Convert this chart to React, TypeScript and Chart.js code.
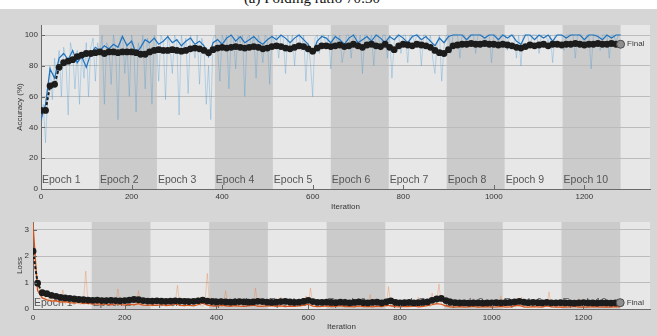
import { useEffect, useRef } from "react";
import { Chart, registerables } from "chart.js";

Chart.register(...registerables);

// ---------------- data ----------------
const TITLE = "(a) Folding ratio 70:30";
const EPOCH_LABELS = ["Epoch 1", "Epoch 2", "Epoch 3", "Epoch 4", "Epoch 5", "Epoch 6", "Epoch 7", "Epoch 8", "Epoch 9", "Epoch 10"];
const ITER_PER_EPOCH = 128;
const X_MAX = 1345;
const X_TICKS = [0, 200, 400, 600, 800, 1000, 1200];
const ACC_TICKS = [0, 20, 40, 60, 80, 100];
const LOSS_TICKS = [0, 1, 2, 3];
const RAW_STEP = 5; // iterations between raw samples
const STEP = 10; // iterations between smoothed / validation samples
const FINAL_ITER = 1280;
const FINAL_ACC = 94;
const FINAL_LOSS = 0.24;

// raw training accuracy, every 5 iterations
const RAW_ACC = [
  40, 55, 30, 62, 80, 58, 85, 70, 90, 60, 92, 85, 48, 95, 88, 65, 90, 55, 88, 72, 95, 60, 92, 98, 70, 95,
  88, 100, 55, 95, 92, 68, 100, 90, 45, 98, 100, 75, 95, 60, 100, 92, 50, 95, 88, 100, 65, 98, 92, 55, 100, 95,
  70, 100, 95, 58, 100, 92, 75, 100, 95, 48, 100, 90, 98, 62, 100, 95, 85, 100, 68, 98, 92, 55, 80, 45, 98, 100,
  92, 70, 100, 95, 100, 65, 100, 98, 78, 100, 95, 100, 60, 98, 100, 92, 100, 72, 100, 95, 82, 100, 98, 68, 100, 95,
  100, 85, 100, 98, 75, 100, 92, 100, 80, 100, 100, 90, 100, 70, 95, 82, 60, 98, 100, 88, 100, 100, 92, 100, 78, 100,
  100, 95, 100, 82, 90, 100, 100, 85, 100, 100, 92, 100, 75, 100, 100, 95, 100, 80, 100, 100, 90, 100, 100, 85, 100, 72,
  95, 100, 100, 88, 100, 100, 82, 100, 100, 95, 100, 100, 80, 100, 100, 92, 100, 85, 75, 95, 100, 70, 92, 100, 100, 88,
  100, 100, 100, 85, 100, 100, 92, 100, 100, 100, 88, 100, 100, 100, 95, 100, 100, 82, 100, 100, 95, 100, 100, 100, 90, 100,
  100, 100, 85, 100, 80, 100, 100, 100, 92, 100, 100, 100, 88, 100, 100, 100, 95, 100, 82, 100, 100, 100, 100, 90, 100, 100,
  100, 100, 85, 100, 100, 100, 92, 100, 100, 78, 100, 100, 100, 90, 100, 100, 100, 85, 100, 100, 95, 100, 100,
];

// smoothed training accuracy, every 10 iterations
const SMOOTH_ACC = [
  45, 55, 78, 72, 85, 88, 84, 90, 82, 86,
  79, 88, 92, 90, 93, 91, 94, 92, 99, 93,
  96, 88, 92, 97, 95, 98, 94, 96, 99, 95,
  97, 93, 96, 98, 94, 96, 93, 86, 95, 97,
  94, 98, 100, 96, 99, 95, 97, 99, 96, 94,
  97, 99, 97, 100, 98, 95, 98, 100, 97, 94,
  88, 96, 99, 98, 95, 99, 97, 94, 98, 100,
  95, 97, 99, 96, 100, 98, 95, 99, 97, 100,
  98, 95, 99, 100, 97, 99, 96, 93, 98, 95,
  99, 100, 100, 100, 97, 100, 100, 100, 98, 100,
  100, 97, 100, 98, 100, 96, 94, 100, 100, 97,
  100, 98, 100, 96, 100, 100, 98, 100, 100, 100,
  97, 100, 100, 99, 97, 100, 98, 100, 100,
];

// validation accuracy, every 10 iterations
const VAL_ACC = [
  51, 51, 67, 68, 79, 82, 83, 84, 86, 87,
  88, 88, 88.5, 89, 88, 89, 89, 88.5, 89, 89,
  89, 88.5, 87.5, 87.5, 89, 90, 90.5, 90, 90, 90.5,
  90, 89.5, 90, 91, 91.5, 91, 90, 88.5, 90.5, 91.5,
  92, 91.5, 92, 92.5, 92, 91.5, 92, 92.5, 92, 91,
  91.5, 92.5, 93, 92.5, 91.5, 91, 92, 93, 92.5, 91,
  89.5, 91.5, 93, 93, 92.5, 93, 93.5, 92.5, 93, 94,
  93, 92, 93.5, 94, 93, 92.5, 94, 92, 90.5, 93,
  94, 93.5, 93, 94, 93.5, 93, 92, 90, 88.5, 88,
  90.5, 93, 93.5, 94, 94, 94.5, 94, 94, 94.5, 94,
  94, 93.5, 94, 93.5, 93, 92, 91.5, 92.5, 93.5, 93,
  93.5, 94, 93, 94, 94, 93.5, 94, 94, 94.5, 94,
  93.5, 94, 94, 94.5, 94, 94, 94.5, 94, 94,
];

// raw training loss, every 5 iterations
const RAW_LOSS = [
  3.3, 1.5, 0.85, 0.6, 0.45, 0.55, 0.32, 0.4, 0.28, 0.5, 0.25, 0.3, 0.22, 0.72, 0.2, 0.35, 0.18, 0.28, 0.15, 0.4, 0.2, 0.17, 0.3, 1.44, 0.15, 0.25,
  0.14, 0.3, 0.18, 0.12, 0.45, 0.16, 0.2, 0.13, 0.35, 0.15, 0.12, 0.76, 0.18, 0.14, 0.25, 0.12, 0.16, 0.3, 0.11, 0.2, 0.7, 0.13, 0.15, 0.28, 0.12, 0.18,
  0.1, 0.22, 0.14, 0.4, 0.11, 0.16, 0.12, 0.3, 0.14, 0.1, 0.25, 0.9, 0.12, 0.18, 0.1, 0.35, 0.13, 0.11, 0.2, 0.15, 0.45, 0.12, 0.1, 0.28, 1.35, 0.14,
  0.18, 0.1, 0.12, 0.3, 0.1, 0.15, 0.7, 0.11, 0.09, 0.2, 0.12, 0.1, 0.35, 0.11, 0.14, 0.09, 0.25, 0.1, 0.12, 0.8, 0.1, 0.15, 0.09, 0.22, 0.11, 0.1,
  0.3, 0.09, 0.12, 0.1, 0.45, 0.11, 0.09, 0.18, 0.1, 0.12, 0.08, 0.25, 0.1, 0.09, 0.15, 0.5, 0.1, 0.8, 0.12, 0.09, 0.2, 0.08, 0.1, 0.14, 0.09, 0.3,
  0.08, 0.1, 0.22, 0.09, 0.12, 0.08, 0.4, 0.09, 0.11, 0.08, 0.18, 0.1, 0.09, 0.3, 0.08, 0.12, 0.09, 0.55, 0.1, 0.08, 0.15, 0.09, 0.1, 0.25, 0.08, 0.85,
  0.12, 0.09, 0.08, 0.2, 0.1, 0.08, 0.35, 0.09, 0.1, 0.08, 0.15, 0.09, 0.45, 0.08, 0.1, 0.12, 0.3, 0.09, 0.6, 0.15, 0.25, 0.95, 0.2, 0.12, 0.1, 0.3,
  0.08, 0.1, 0.07, 0.18, 0.09, 0.07, 0.25, 0.08, 0.1, 0.07, 0.4, 0.08, 0.07, 0.12, 0.09, 0.07, 0.3, 0.08, 0.07, 0.15, 0.08, 0.07, 0.5, 0.09, 0.07, 0.1,
  0.08, 0.2, 0.07, 0.35, 0.1, 0.45, 0.08, 0.07, 0.12, 0.07, 0.08, 0.25, 0.07, 0.09, 0.07, 0.15, 0.08, 0.65, 0.07, 0.1, 0.07, 0.3, 0.08, 0.07, 0.12, 0.07,
  0.08, 0.2, 0.07, 0.09, 0.4, 0.07, 0.08, 0.15, 0.07, 0.3, 0.08, 0.07, 0.1, 0.07, 0.25, 0.08, 0.07, 0.12, 0.07, 0.35, 0.08, 0.07, 0.09,
];

// smoothed training loss, every 10 iterations
const SMOOTH_LOSS = [
  3.25, 0.7, 0.42, 0.35, 0.3, 0.32, 0.26, 0.28, 0.24, 0.22,
  0.25, 0.2, 0.22, 0.18, 0.2, 0.17, 0.19, 0.16, 0.2, 0.17,
  0.15, 0.18, 0.16, 0.2, 0.15, 0.14, 0.16, 0.14, 0.17, 0.13,
  0.15, 0.2, 0.14, 0.13, 0.15, 0.12, 0.16, 0.22, 0.15, 0.12,
  0.11, 0.14, 0.12, 0.1, 0.13, 0.11, 0.1, 0.12, 0.15, 0.11,
  0.1, 0.12, 0.13, 0.1, 0.12, 0.09, 0.11, 0.1, 0.12, 0.15,
  0.18, 0.11, 0.09, 0.1, 0.12, 0.09, 0.1, 0.13, 0.09, 0.1,
  0.08, 0.12, 0.09, 0.1, 0.08, 0.11, 0.09, 0.14, 0.12, 0.09,
  0.08, 0.1, 0.09, 0.12, 0.08, 0.1, 0.13, 0.16, 0.2, 0.18,
  0.12, 0.08, 0.07, 0.09, 0.07, 0.08, 0.1, 0.07, 0.08, 0.09,
  0.07, 0.08, 0.1, 0.07, 0.08, 0.12, 0.14, 0.08, 0.07, 0.09,
  0.08, 0.07, 0.12, 0.08, 0.07, 0.08, 0.07, 0.08, 0.1, 0.07,
  0.08, 0.07, 0.09, 0.08, 0.07, 0.08, 0.07, 0.09, 0.08,
];

// validation loss, every 10 iterations
const VAL_LOSS = [
  2.19, 0.98, 0.62, 0.58, 0.52, 0.48, 0.44, 0.42, 0.4, 0.38,
  0.36, 0.35, 0.34, 0.33, 0.34, 0.32, 0.32, 0.33, 0.32, 0.31,
  0.32, 0.34, 0.36, 0.35, 0.32, 0.3, 0.3, 0.31, 0.3, 0.29,
  0.3, 0.31, 0.3, 0.29, 0.28, 0.29, 0.31, 0.34, 0.3, 0.28,
  0.27, 0.28, 0.27, 0.26, 0.27, 0.28, 0.27, 0.26, 0.27, 0.29,
  0.28, 0.26, 0.25, 0.26, 0.28, 0.29, 0.27, 0.25, 0.26, 0.29,
  0.33, 0.28, 0.25, 0.25, 0.26, 0.25, 0.24, 0.26, 0.25, 0.23,
  0.25, 0.27, 0.24, 0.23, 0.25, 0.26, 0.23, 0.27, 0.31, 0.25,
  0.23, 0.24, 0.25, 0.23, 0.24, 0.25, 0.27, 0.33, 0.38, 0.4,
  0.32, 0.26, 0.24, 0.23, 0.23, 0.22, 0.23, 0.23, 0.22, 0.23,
  0.23, 0.24, 0.23, 0.24, 0.25, 0.27, 0.29, 0.26, 0.24, 0.25,
  0.24, 0.23, 0.25, 0.23, 0.23, 0.24, 0.23, 0.23, 0.22, 0.23,
  0.24, 0.23, 0.23, 0.22, 0.23, 0.23, 0.22, 0.23, 0.23,
];

// ---------------- styling ----------------
const W = 657;
const H = 336;
const FONT = "'Liberation Sans', Arial, sans-serif";
const FIG_BG = "#d6d6d6";
const LIGHT = "#e7e7e7";
const DARK = "#cbcbcb";
const GRID = "#bcbcbc";
const AXIS = "#6a6a6a";
const TEXT = "#353535";

const pts = (arr: number[], step: number) => arr.map((v, i) => ({ x: i * step, y: v }));

const bandsPlugin = {
  id: "bands",
  beforeDraw(chart: any) {
    const { ctx, chartArea: a, scales } = chart;
    const x = scales.x;
    ctx.save();
    ctx.fillStyle = LIGHT;
    ctx.fillRect(a.left, a.top, a.right - a.left, a.bottom - a.top);
    ctx.fillStyle = DARK;
    EPOCH_LABELS.forEach((_, i) => {
      if (i % 2 === 1) {
        const x0 = x.getPixelForValue(i * ITER_PER_EPOCH);
        const x1 = x.getPixelForValue((i + 1) * ITER_PER_EPOCH);
        ctx.fillRect(x0, a.top, x1 - x0, a.bottom - a.top);
      }
    });
    ctx.restore();
  },
};

const epochTextPlugin = {
  id: "epochText",
  beforeDatasetsDraw(chart: any, _args: any, opts: any) {
    const { ctx, chartArea: a, scales } = chart;
    const x = scales.x;
    ctx.save();
    ctx.font = `10.5px ${FONT}`;
    ctx.fillStyle = "#555555";
    ctx.textBaseline = "alphabetic";
    ctx.textAlign = "left";
    EPOCH_LABELS.forEach((lab, i) => {
      ctx.fillText(lab, x.getPixelForValue(i * ITER_PER_EPOCH) + 1, a.bottom - (opts.offset ?? 6));
    });
    ctx.restore();
  },
};

const ticksPlugin = {
  id: "inTicks",
  afterDraw(chart: any) {
    const { ctx, chartArea: a, scales } = chart;
    ctx.save();
    ctx.strokeStyle = AXIS;
    ctx.lineWidth = 1;
    ctx.beginPath();
    scales.x.ticks.forEach((t: any) => {
      const px = Math.round(scales.x.getPixelForValue(t.value)) + 0.5;
      ctx.moveTo(px, a.bottom);
      ctx.lineTo(px, a.bottom - 4);
    });
    scales.y.ticks.forEach((t: any) => {
      const py = Math.round(scales.y.getPixelForValue(t.value)) + 0.5;
      ctx.moveTo(a.left, py);
      ctx.lineTo(a.left + 4, py);
    });
    ctx.stroke();
    ctx.restore();
  },
};

const finalPlugin = {
  id: "finalText",
  afterDatasetsDraw(chart: any) {
    const meta = chart.getDatasetMeta(0);
    const p = meta.data[0];
    if (!p) return;
    const { ctx } = chart;
    ctx.save();
    ctx.font = `8px ${FONT}`;
    ctx.fillStyle = "#3c3c3c";
    ctx.textBaseline = "middle";
    ctx.fillText("Final", p.x + 6.5, p.y);
    ctx.restore();
  },
};

function buildConfig(o: {
  raw: number[];
  smooth: number[];
  val: number[];
  finalVal: number;
  rawColor: string;
  smoothColor: string;
  yMax: number;
  yTicks: number[];
  yTitle: string;
  padTop: number;
  yWidth: number;
  xHeight: number;
  xTickPad: number;
  xTitlePad: number;
  yTickPad: number;
  epochOffset: number;
}): any {
  return {
    type: "line",
    data: {
      datasets: [
        {
          label: "Final",
          data: [{ x: FINAL_ITER, y: o.finalVal }],
          showLine: false,
          pointRadius: 4,
          pointBackgroundColor: "#8f8f8f",
          pointBorderColor: "#4a4a4a",
          pointBorderWidth: 1,
          order: 0,
        },
        {
          label: "Validation",
          data: pts(o.val, STEP),
          borderColor: "#1c1c1c",
          borderWidth: 2,
          borderDash: [3, 2],
          pointRadius: 3.4,
          pointBackgroundColor: "#1c1c1c",
          pointBorderWidth: 0,
          tension: 0,
          order: 1,
        },
        {
          label: "Smoothed",
          data: pts(o.smooth, STEP),
          borderColor: o.smoothColor,
          borderWidth: 1.2,
          pointRadius: 0,
          tension: 0,
          order: 2,
        },
        {
          label: "Raw",
          data: pts(o.raw, RAW_STEP),
          borderColor: o.rawColor,
          borderWidth: 0.8,
          pointRadius: 0,
          tension: 0,
          order: 3,
        },
      ],
    },
    options: {
      responsive: false,
      animation: false,
      events: [],
      layout: { padding: { top: o.padTop, right: W - 650, left: 0, bottom: 0 } },
      plugins: {
        legend: { display: false },
        tooltip: { enabled: false },
        title: { display: false },
        epochText: { offset: o.epochOffset },
      },
      scales: {
        x: {
          type: "linear",
          min: 0,
          max: X_MAX,
          afterBuildTicks: (s: any) => {
            s.ticks = X_TICKS.map((v) => ({ value: v }));
          },
          afterFit: (s: any) => {
            s.height = o.xHeight;
            s.paddingLeft = 0;
            s.paddingRight = 0;
          },
          grid: { display: false, drawTicks: false },
          border: { display: true, color: AXIS, width: 1 },
          ticks: {
            font: { size: 8, family: FONT },
            color: TEXT,
            padding: o.xTickPad,
            maxRotation: 0,
            autoSkip: false,
            callback: (v: any) => String(v),
          },
          title: {
            display: true,
            text: "Iteration",
            font: { size: 8, family: FONT },
            color: TEXT,
            padding: { top: 0, bottom: o.xTitlePad },
          },
        },
        y: {
          type: "linear",
          min: 0,
          max: o.yMax,
          afterBuildTicks: (s: any) => {
            s.ticks = o.yTicks.map((v) => ({ value: v }));
          },
          afterFit: (s: any) => {
            s.width = o.yWidth;
            s.paddingTop = 0;
            s.paddingBottom = 0;
          },
          grid: {
            drawTicks: false,
            color: (c: any) => (c.tick && c.tick.value === 0 ? AXIS : GRID),
            lineWidth: 1,
          },
          border: { display: true, color: AXIS, width: 1 },
          ticks: {
            font: { size: 8, family: FONT },
            color: TEXT,
            padding: o.yTickPad,
            callback: (v: any) => String(v),
          },
          title: {
            display: true,
            text: o.yTitle,
            font: { size: 8, family: FONT },
            color: TEXT,
            padding: { top: 15, bottom: 0 },
          },
        },
      },
    },
    plugins: [bandsPlugin, epochTextPlugin, ticksPlugin, finalPlugin],
  };
}

export default function App() {
  const topRef = useRef<HTMLCanvasElement>(null);
  const botRef = useRef<HTMLCanvasElement>(null);

  useEffect(() => {
    const c1 = new Chart(
      topRef.current as HTMLCanvasElement,
      buildConfig({
        raw: RAW_ACC,
        smooth: SMOOTH_ACC,
        val: VAL_ACC,
        finalVal: FINAL_ACC,
        rawColor: "rgba(60,145,210,0.38)",
        smoothColor: "#1f72bd",
        yMax: 106.5,
        yTicks: ACC_TICKS,
        yTitle: "Accuracy (%)",
        padTop: 25,
        yWidth: 41,
        xHeight: 26,
        xTickPad: 3,
        xTitlePad: 3,
        yTickPad: 3,
        epochOffset: 6,
      })
    );
    const c2 = new Chart(
      botRef.current as HTMLCanvasElement,
      buildConfig({
        raw: RAW_LOSS,
        smooth: SMOOTH_LOSS,
        val: VAL_LOSS,
        finalVal: FINAL_LOSS,
        rawColor: "rgba(235,115,50,0.4)",
        smoothColor: "#d95319",
        yMax: 3.3,
        yTicks: LOSS_TICKS,
        yTitle: "Loss",
        padTop: 7,
        yWidth: 33,
        xHeight: 27,
        xTickPad: 4,
        xTitlePad: 4,
        yTickPad: 4,
        epochOffset: 3,
      })
    );
    return () => {
      c1.destroy();
      c2.destroy();
    };
  }, []);

  return (
    <div
      style={{
        position: "fixed",
        left: 0,
        top: 0,
        width: W,
        height: H,
        background: FIG_BG,
        overflow: "hidden",
      }}
    >
      <div
        style={{
          position: "absolute",
          left: 0,
          top: 0,
          width: W,
          height: 9,
          background: "#ffffff",
          overflow: "hidden",
        }}
      >
        <div
          style={{
            position: "absolute",
            left: 0,
            top: -9,
            width: 624,
            textAlign: "center",
            fontFamily: "'Liberation Serif', 'Times New Roman', serif",
            fontSize: 15,
            lineHeight: "15px",
            color: "#111",
            whiteSpace: "nowrap",
          }}
        >
          {TITLE}
        </div>
      </div>
      <canvas ref={topRef} width={W} height={215} style={{ position: "absolute", left: 0, top: 0 }} />
      <canvas ref={botRef} width={W} height={121} style={{ position: "absolute", left: 0, top: 215 }} />
    </div>
  );
}
